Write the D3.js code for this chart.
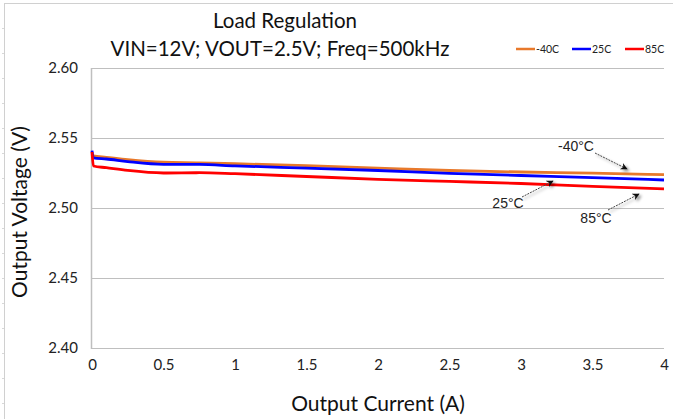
<!DOCTYPE html>
<html><head><meta charset="utf-8">
<script src="https://cdn.jsdelivr.net/npm/d3@7"></script>
<style>body{margin:0;background:#fff}svg{display:block}text{font-family:Lato,"Open Sans",sans-serif}</style>
</head><body><svg id="c" width="673" height="419"></svg>
<script>
const current = [0, 0.01, 0.1, 0.25, 0.5, 0.75, 1.0, 1.5, 2.0, 2.5, 3.0, 3.5, 4.0];
const vMinus40 = [2.5375, 2.5372, 2.5362, 2.5345, 2.5327, 2.5323, 2.5316, 2.5303, 2.5285, 2.5268, 2.5257, 2.5249, 2.5238];
const v25 = [2.541, 2.5358, 2.5350, 2.5332, 2.5312, 2.5311, 2.5301, 2.5285, 2.5268, 2.5248, 2.5232, 2.5217, 2.5200];
const v85 = [2.540, 2.530, 2.5288, 2.5268, 2.5250, 2.5252, 2.5245, 2.5225, 2.5205, 2.5190, 2.5175, 2.5155, 2.5137];
const seriesNames = ["-40C", "25C", "85C"];
const seriesColors = ["#e8792b", "#0000ff", "#ff0000"];
const xTicks = [0, 0.5, 1, 1.5, 2, 2.5, 3, 3.5, 4];
const yTicks = [2.40, 2.45, 2.50, 2.55, 2.60];
const title = "Load Regulation";
const subtitle = "VIN=12V; VOUT=2.5V; Freq=500kHz";
const annotations = [
  {label: "-40°C", tx: 576, ty: 151, x1: 595, y1: 153, x2: 627, y2: 169},
  {label: "25°C", tx: 508, ty: 208, x1: 522, y1: 197, x2: 553, y2: 181},
  {label: "85°C", tx: 596, ty: 223, x1: 608, y1: 210, x2: 639, y2: 194}
];

const svg = d3.select("#c");
const x = d3.scaleLinear().domain([0, 4]).range([92, 664]);
const y = d3.scaleLinear().domain([2.40, 2.60]).range([348, 68]);

// faint sheet frame
svg.append("line").attr("x1",4.5).attr("x2",4.5).attr("y1",3).attr("y2",419).attr("stroke","#d0d0d0");
svg.append("line").attr("x1",4).attr("x2",673).attr("y1",3.5).attr("y2",3.5).attr("stroke","#d0d0d0");
for (let yy = 28; yy < 419; yy += 25) svg.append("line").attr("x1",2).attr("x2",4).attr("y1",yy+0.5).attr("y2",yy+0.5).attr("stroke","#d8d8d8");

// gridlines
svg.append("g").selectAll("line").data(yTicks).join("line")
  .attr("x1", 91).attr("x2", 664)
  .attr("y1", d => Math.round(y(d)) + 0.5).attr("y2", d => Math.round(y(d)) + 0.5)
  .attr("stroke", "#bfbfbf").attr("stroke-width", 1);
svg.append("line").attr("x1", 91.5).attr("x2", 91.5).attr("y1", 68).attr("y2", 349)
  .attr("stroke", "#bfbfbf").attr("stroke-width", 1.5);

// y axis labels
const yAxis = d3.axisLeft(y).tickValues(yTicks).tickFormat(d3.format(".2f")).tickSize(0).tickPadding(13);
const gy = svg.append("g").attr("transform", "translate(91,0)").call(yAxis);
gy.select(".domain").remove();
gy.selectAll("text").attr("font-size", 15).attr("fill", "#222").style("font-family", "Lato, sans-serif");

const xAxis = d3.axisBottom(x).tickValues(xTicks).tickFormat(d => d3.format("")(d)).tickSize(0).tickPadding(10);
const gx = svg.append("g").attr("transform", "translate(0,349)").call(xAxis);
gx.select(".domain").remove();
gx.selectAll("text").attr("font-size", 15).attr("fill", "#222").style("font-family", "Lato, sans-serif");

// lines
const allSeries = [vMinus40, v25, v85];
const line = d3.line().x((d, i) => x(current[i])).y(d => y(d)).curve(d3.curveMonotoneX);
allSeries.forEach((vals, k) => {
  svg.append("path").datum(vals).attr("d", line).attr("fill", "none")
    .attr("stroke", seriesColors[k]).attr("stroke-width", 2.8);
});

// titles
svg.append("text").attr("x", 285).attr("y", 28).attr("text-anchor", "middle").attr("font-size", 20.5).attr("fill", "#111").text(title);
svg.append("text").attr("x", 280).attr("y", 56).attr("text-anchor", "middle").attr("font-size", 20.5).attr("fill", "#111").text(subtitle);
svg.append("text").attr("x", 378).attr("y", 411).attr("text-anchor", "middle").attr("font-size", 21).attr("fill", "#111").text("Output Current (A)");
svg.append("text").attr("transform", "translate(27,212) rotate(-90)").attr("text-anchor", "middle").attr("font-size", 21).attr("fill", "#111").text("Output Voltage (V)");

// legend
const legX = [516, 572, 625];
seriesNames.forEach((n, k) => {
  svg.append("line").attr("x1", legX[k]).attr("x2", legX[k] + 19).attr("y1", 49).attr("y2", 49)
    .attr("stroke", seriesColors[k]).attr("stroke-width", 2.5);
  svg.append("text").attr("x", legX[k] + 20).attr("y", 53).attr("font-size", 10.5).attr("fill", "#222").text(n);
});

// annotations
const defs = svg.append("defs");
defs.append("marker").attr("id", "arr").attr("viewBox", "0 0 10 10").attr("refX", 9).attr("refY", 5)
  .attr("markerWidth", 7).attr("markerHeight", 7).attr("orient", "auto")
  .append("path").attr("d", "M0,0 L10,5 L0,10 L3,5 z").attr("fill", "#111");
const f = defs.append("filter").attr("id", "sh").attr("x", "-50%").attr("y", "-50%").attr("width", "200%").attr("height", "200%");
f.append("feGaussianBlur").attr("in", "SourceAlpha").attr("stdDeviation", 1.5).attr("result", "b");
f.append("feOffset").attr("dx", 2).attr("dy", 2).attr("result", "o");
f.append("feComponentTransfer").append("feFuncA").attr("type", "linear").attr("slope", 0.5);
const m = f.append("feMerge"); m.append("feMergeNode"); m.append("feMergeNode").attr("in", "SourceGraphic");
annotations.forEach(a => {
  svg.append("line").attr("x1", a.x1).attr("y1", a.y1).attr("x2", a.x2).attr("y2", a.y2)
    .attr("stroke", "#444").attr("stroke-width", 1).attr("stroke-dasharray", "2,1")
    .attr("marker-end", "url(#arr)").attr("filter", "url(#sh)");
  svg.append("text").attr("x", a.tx).attr("y", a.ty).attr("text-anchor", "middle")
    .attr("font-size", 14).attr("fill", "#222").style("font-family", "'Liberation Sans', Arial, sans-serif").text(a.label);
});
</script></body></html>
